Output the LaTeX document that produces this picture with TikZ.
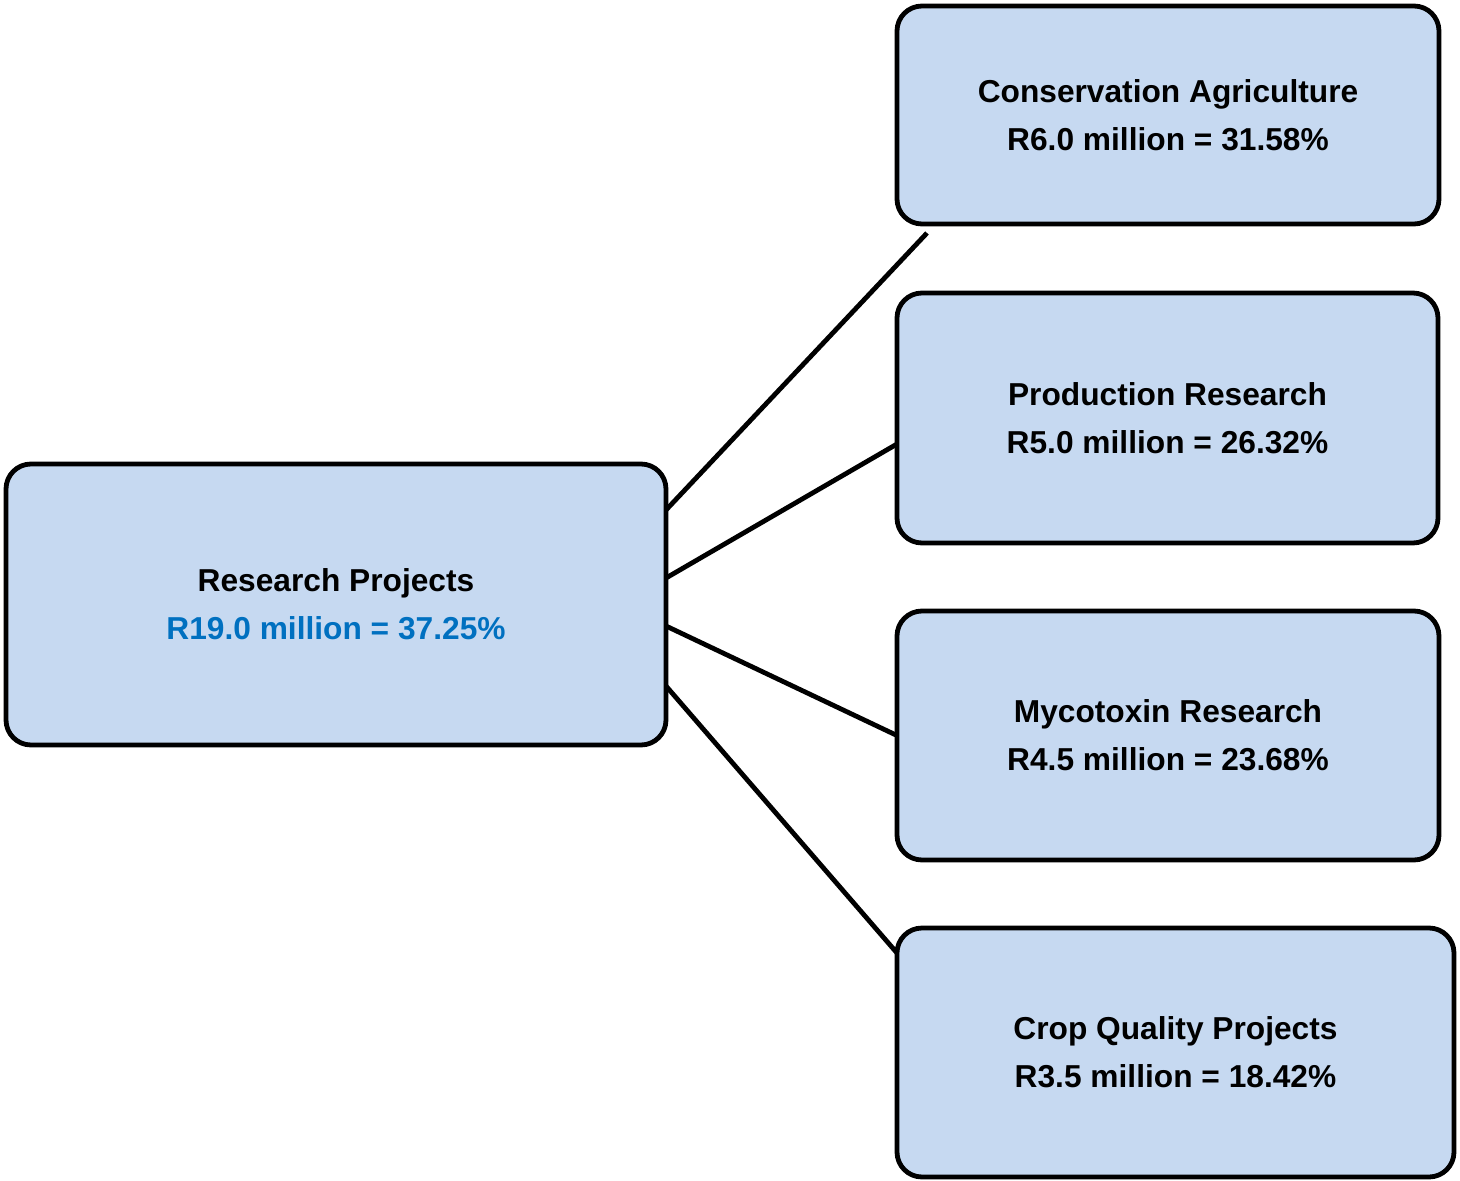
\documentclass[tikz,border=0pt]{standalone}
\usepackage{fontspec}
\setmainfont{Liberation Sans}
\usetikzlibrary{calc}
\definecolor{boxfill}{HTML}{C6D9F1}
\definecolor{valblue}{HTML}{0070C0}
\tikzset{
  box/.style={draw=black, line width=4.8pt, fill=boxfill, rounded corners=25pt,
    inner sep=0pt, outer sep=0pt, align=center,
    font=\fontsize{31.7}{48}\selectfont\bfseries},
  conn/.style={draw=black, line width=4.8pt}
}
\begin{document}
\begin{tikzpicture}[x=1pt,y=-1pt]
\useasboundingbox (0,0) rectangle (1460,1181);
\node[box, minimum width=660pt, minimum height=281pt] (L) at (336,604.5)
  {Research Projects\\\textcolor{valblue}{R19.0 million = 37.25\%}};
\node[box, minimum width=542pt, minimum height=218pt] (B1) at (1168,115)
  {Conservation Agriculture\\R6.0 million = 31.58\%};
\node[box, minimum width=541pt, minimum height=250pt] (B2) at (1167.5,418)
  {Production Research\\R5.0 million = 26.32\%};
\node[box, minimum width=542pt, minimum height=249pt] (B3) at (1168,735.5)
  {Mycotoxin Research\\R4.5 million = 23.68\%};
\node[box, minimum width=557pt, minimum height=249pt] (B4) at (1175.5,1052.5)
  {Crop Quality Projects\\R3.5 million = 18.42\%};
\coordinate (e1) at (927,233);
\draw[conn] ($(L.east)+(0,-94.5)$) -- (e1);
\draw[conn] ($(L.east)+(0,-26.5)$) -- ($(B2.west)+(0,26)$);
\draw[conn] ($(L.east)+(0,21.5)$) -- (B3.west);
\draw[conn] ($(L.east)+(0,81.5)$) -- ($(B4.west)+(0,-99.5)$);
\end{tikzpicture}
\end{document}
